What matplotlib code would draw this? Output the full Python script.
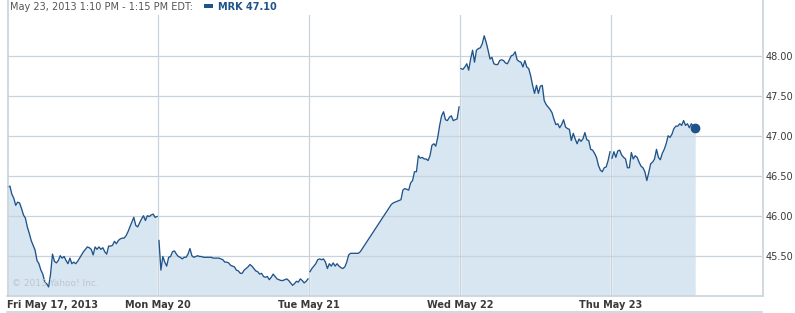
import matplotlib
matplotlib.use("Agg")
import matplotlib.pyplot as plt
from matplotlib.patches import Rectangle
from matplotlib.lines import Line2D

# 5-minute closes per trading day (78 bars a day, None = no trade shown)
fri_may17 = [46.36, 46.37, 46.27, 46.22, 46.13, 46.17, 46.16, 46.09, 46.01, 45.97,
             45.86, 45.78, 45.69, 45.63, 45.57, 45.44, 45.40, 45.32, 45.27, 45.17,
             45.15, 45.11, 45.27, 45.52, 45.43, 45.41, 45.44, 45.50, 45.47, 45.49,
             45.44, 45.40, 45.47, 45.40, 45.42, 45.40, 45.43, 45.47, 45.51, 45.55,
             45.58, 45.61, 45.60, 45.58, 45.51, 45.61, 45.58, 45.61, 45.58, 45.60,
             45.55, 45.52, 45.62, 45.62, 45.63, 45.68, 45.65, 45.69, 45.71, 45.72,
             45.72, 45.75, 45.80, 45.86, 45.92, 45.98, 45.88, 45.86, 45.91, 45.96,
             46.00, 45.94, 46.00, 45.99, 46.01, 46.02, 45.98, 45.99]
mon_may20 = [45.69, 45.32, 45.49, 45.42, 45.37, 45.48, 45.49, 45.55, 45.56, 45.52,
             45.49, 45.48, 45.46, 45.48, 45.48, 45.52, 45.59, 45.50, 45.48, 45.49,
             45.50, 45.49, 45.49, 45.48, 45.48, 45.48, 45.48, 45.48, 45.47, 45.47,
             45.47, 45.47, 45.46, 45.45, 45.42, 45.42, 45.41, 45.38, 45.37, 45.36,
             45.32, 45.31, 45.28, 45.28, 45.32, 45.34, 45.36, 45.39, 45.37, 45.34,
             45.31, 45.30, 45.27, 45.28, 45.24, 45.23, 45.24, 45.20, 45.23, 45.27,
             45.24, 45.21, 45.20, 45.19, 45.19, 45.20, 45.21, 45.19, 45.16, 45.13,
             45.15, 45.18, 45.17, 45.21, 45.19, 45.16, 45.18, 45.21]
tue_may21 = [45.30, 45.34, 45.37, 45.40, 45.45, 45.46, 45.45, 45.46, 45.42, 45.34,
             45.40, 45.37, 45.41, 45.37, 45.40, 45.37, 45.35, 45.34, 45.36, 45.42,
             45.51, 45.53, 45.53, 45.53, 45.53, 45.53, 45.55,
             None, None, None, None, None, None, None, None, None, None,
             None, None, None, None, None,
             46.14, 46.16, 46.17, 46.18, 46.19, 46.20, 46.32, 46.34, 46.33, 46.32,
             46.41, 46.44, 46.55, 46.55, 46.75, 46.72, 46.73, 46.71, 46.71, 46.69,
             46.75, 46.88, 46.90, 46.87, 46.98, 47.13, 47.25, 47.30, 47.20, 47.19,
             47.23, 47.25, 47.19, 47.20, 47.21, 47.36]
wed_may22 = [47.84, 47.83, 47.86, 47.90, 47.82, 47.96, 48.07, 47.92, 48.07, 48.09,
             48.10, 48.15, 48.25, 48.17, 48.07, 47.96, 47.98, 47.90, 47.89, 47.89,
             47.94, 47.95, 47.94, 47.91, 47.90, 47.95, 48.00, 48.01, 48.05, 47.95,
             47.93, 47.92, 47.86, 47.94, 47.86, 47.84, 47.75, 47.63, 47.53, 47.63,
             47.53, 47.62, 47.63, 47.44, 47.39, 47.36, 47.33, 47.29, 47.21, 47.14,
             47.15, 47.10, 47.14, 47.20, 47.11, 47.09, 47.08, 46.94, 47.03, 46.96,
             46.90, 46.96, 46.93, 46.96, 47.04, 46.95, 46.94, 46.83, 46.82, 46.78,
             46.73, 46.63, 46.57, 46.55, 46.60, 46.61, 46.69, 46.80]
thu_may23 = [46.72, 46.80, 46.73, 46.81, 46.82, 46.76, 46.73, 46.71, 46.60, 46.60,
             46.79, 46.71, 46.75, 46.73, 46.67, 46.62, 46.60, 46.55, 46.44, 46.54,
             46.65, 46.67, 46.71, 46.83, 46.73, 46.70, 46.78, 46.83, 46.90, 47.00,
             46.98, 47.02, 47.09, 47.12, 47.12, 47.15, 47.13, 47.19, 47.13, 47.15,
             47.10, 47.15, 47.12, 47.10]

days = [fri_may17, mon_may20, tue_may21, wed_may22, thu_may23]
day_labels = ["Fri May 17, 2013", "Mon May 20", "Tue May 21", "Wed May 22", "Thu May 23"]
price_ticks = [45.50, 46.00, 46.50, 47.00, 47.50, 48.00]
bars_per_day = 78

header = "May 23, 2013 1:10 PM - 1:15 PM EDT:"
symbol = "MRK"
last_price = thu_may23[-1]

line_col = "#1f5389"
fill_col = "#d7e6f1"
grid_col = "#c9d3db"
text_col = "#3a3a3a"

fig = plt.figure(figsize=(7.95, 3.13), dpi=100)
W, H = 795, 313
ax = fig.add_axes([7 / W, (H - 295.7) / H, 755 / W, 280.7 / H])

for d, vals in enumerate(days):
    xs = [d * bars_per_day + i + 0.5 for i, v in enumerate(vals) if v is not None]
    ys = [v for v in vals if v is not None]
    ax.fill_between(xs, ys, 45.0, color=fill_col, lw=0, zorder=1)
    ax.plot(xs, ys, color=line_col, lw=0.95, zorder=3)

last_x = 4 * bars_per_day + len(thu_may23) - 0.5
ax.plot([last_x], [last_price], "o", color=line_col, ms=6, zorder=4)

for p in price_ticks:
    ax.axhline(p, color=grid_col, lw=0.9, zorder=2)
for d in range(1, len(days)):
    ax.axvline(d * bars_per_day, color=grid_col, lw=0.9, zorder=2)

ax.set_xlim(0, bars_per_day * len(days))
ax.set_ylim(45.0, 48.51)

ax.yaxis.tick_right()
ax.set_yticks(price_ticks)
ax.set_yticklabels(["%.2f" % p for p in price_ticks])
ax.tick_params(axis="y", length=0, pad=2.5, labelsize=7, labelcolor=text_col)

ax.set_xticks([d * bars_per_day for d in range(len(days))])
ax.set_xticklabels(day_labels, fontweight="bold")
ax.tick_params(axis="x", length=0, pad=3, labelsize=7, labelcolor=text_col)
ax.get_xticklabels()[0].set_horizontalalignment("left")

for s in ["top", "left", "right"]:
    ax.spines[s].set_visible(False)
ax.spines["bottom"].set_color(grid_col)
ax.spines["bottom"].set_linewidth(1.2)

ax.text(0.007, 0.035, "\u00a9 2013 Yahoo! Inc.", transform=ax.transAxes,
        fontsize=6.5, color="#bcc6cf", zorder=5)

# frame lines outside the plot
fig.add_artist(Line2D([7.5 / W, 7.5 / W], [(H - 295.7) / H, 1], color=grid_col, lw=1.2))
fig.add_artist(Line2D([762.5 / W, 762.5 / W], [(H - 295.7) / H, 1], color=grid_col, lw=1.2))
fig.add_artist(Line2D([7 / W, 762 / W], [1.5 / H, 1.5 / H], color=grid_col, lw=1.2))

fig.text(10 / W, 1 - 7 / H, header, fontsize=7, color="#555555", va="center")
fig.add_artist(Rectangle((204 / W, 1 - 8 / H), 9 / W, 4 / H, color=line_col, lw=0))
fig.text(218 / W, 1 - 7 / H, "%s %.2f" % (symbol, last_price), fontsize=7,
         color=line_col, fontweight="bold", va="center")

fig.savefig("out.png", dpi=100)
